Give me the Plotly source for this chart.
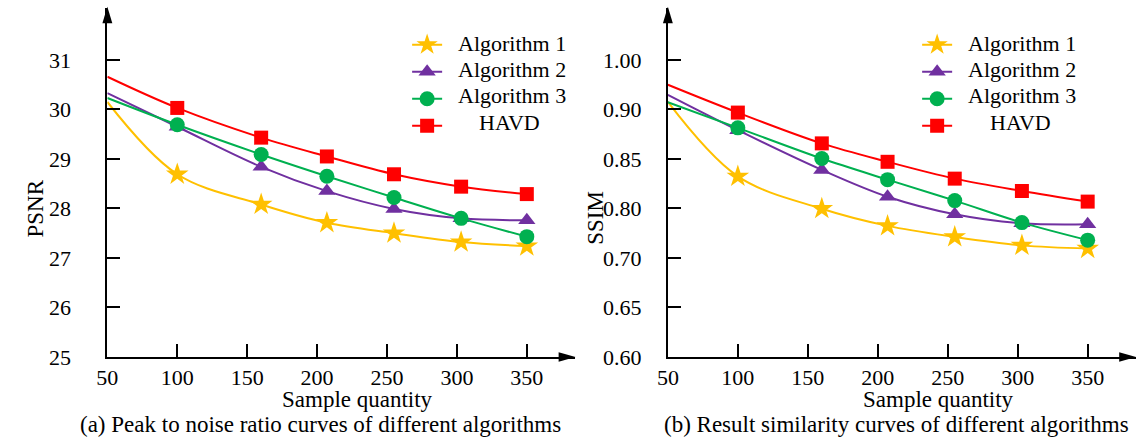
import plotly.graph_objects as go

W, H = 1136, 446

# ---------------- data ----------------
sample_x = [50, 100, 160, 207, 255, 303, 350]
x_ticks = [50, 100, 150, 200, 250, 300, 350]

names = ["Algorithm 1", "Algorithm 2", "Algorithm 3", "HAVD"]

psnr_alg1 = [30.15, 28.69, 28.08, 27.71, 27.50, 27.32, 27.24]
psnr_alg2 = [30.33, 29.65, 28.84, 28.35, 27.99, 27.80, 27.76]
psnr_alg3 = [30.23, 29.69, 29.09, 28.65, 28.22, 27.80, 27.43]
psnr_havd = [30.66, 30.03, 29.43, 29.05, 28.69, 28.44, 28.29]
psnr_ticks = [25, 26, 27, 28, 29, 30, 31]

ssim_alg1 = [0.9076, 0.8324, 0.7997, 0.7824, 0.7713, 0.7627, 0.7595]
ssim_alg2 = [0.9147, 0.8790, 0.8389, 0.8118, 0.7941, 0.7850, 0.7840]
ssim_alg3 = [0.9073, 0.8814, 0.8504, 0.8291, 0.8079, 0.7857, 0.7680]
ssim_havd = [0.9249, 0.8968, 0.8657, 0.8471, 0.8301, 0.8176, 0.8069]
ssim_tick_vals = [0.65, 0.70, 0.75, 0.80, 0.85, 0.90, 0.95]
ssim_tick_text = ["0.60", "0.65", "0.70", "0.80", "0.85", "0.90", "1.00"]

# ---------------- styles ----------------
colors = ["#FFC000", "#7030A0", "#00B050", "#FF0000"]
symbols = ["star", "triangle-up", "circle", "square"]
msizes = [17, 15, 15, 14]
FONT = "Liberation Serif"
FS_TICK = 22
FS_TEXT = 23
FS_LEG = 22
ROW = 27  # legend row spacing (px)


def px(x):
    return x / W


def py(y):
    return 1 - y / H


fig = go.Figure()

panels = [
    ("x", "y", "legend", [psnr_alg1, psnr_alg2, psnr_alg3, psnr_havd]),
    ("x2", "y2", "legend2", [ssim_alg1, ssim_alg2, ssim_alg3, ssim_havd]),
]

for xa, ya, lg, series in panels:
    for i, vals in enumerate(series):
        # smooth curve through all points
        fig.add_trace(go.Scatter(
            x=sample_x, y=vals, xaxis=xa, yaxis=ya, mode="lines",
            line=dict(color=colors[i], width=2, shape="spline", smoothing=1),
            showlegend=False, hoverinfo="skip", cliponaxis=False))
        # markers (no marker at the first sample)
        fig.add_trace(go.Scatter(
            x=sample_x[1:], y=vals[1:], xaxis=xa, yaxis=ya, mode="markers",
            name=names[i],
            marker=dict(color=colors[i], symbol=symbols[i], size=msizes[i],
                        line=dict(width=0)),
            showlegend=False, cliponaxis=False))
        # legend symbol (its label is drawn as an annotation for exact spacing)
        fig.add_trace(go.Scatter(
            x=[None], y=[None], xaxis=xa, yaxis=ya, mode="lines+markers",
            name="\u00a0", legend=lg,
            line=dict(color=colors[i], width=2),
            marker=dict(color=colors[i], symbol=symbols[i], size=msizes[i],
                        line=dict(width=0))))

axis_common = dict(
    showgrid=False, zeroline=False, showline=True, linecolor="black",
    linewidth=2, ticks="inside", ticklen=13, tickwidth=2, tickcolor="black",
    tickfont=dict(family=FONT, size=FS_TICK, color="black"),
)

y_bot = 367.7
y_top = 8
leg_fs = (ROW - 3) / 1.3
leg_common = dict(xanchor="left", yanchor="top", bgcolor="rgba(0,0,0,0)",
                  font=dict(family=FONT, size=leg_fs), tracegroupgap=0,
                  itemwidth=30, borderwidth=0)
fig.update_layout(
    width=W, height=H,
    margin=dict(l=0, r=0, t=0, b=0),
    paper_bgcolor="white", plot_bgcolor="white",
    font=dict(family=FONT, size=FS_TEXT, color="black"),
    xaxis=dict(domain=[px(97.3), px(570)], range=[50, 384.8],
               tickvals=x_ticks, anchor="y", **axis_common),
    yaxis=dict(domain=[py(y_bot), py(y_top)], range=[25, 25 + (y_bot - y_top) / 51],
               tickvals=psnr_ticks, anchor="x", ticklabelstandoff=30, **axis_common),
    xaxis2=dict(domain=[px(663.3), px(1135.5)], range=[50, 50 + (1135.5 - 663.3) / 1.413],
                tickvals=x_ticks, anchor="y2", **axis_common),
    yaxis2=dict(domain=[py(y_bot), py(y_top)],
                range=[0.65, 0.65 + (y_bot - y_top) / 51 * 0.05],
                tickvals=ssim_tick_vals, ticktext=ssim_tick_text,
                anchor="x2", ticklabelstandoff=20, **axis_common),
    legend=dict(x=px(400), y=py(27), **leg_common),
    legend2=dict(x=px(915), y=py(27), **leg_common),
    showlegend=True,
)


# axis arrowheads (layout decorations in pixel space)
def arrow_right(xtip, y):
    return dict(type="path", xref="paper", yref="paper",
                path=f"M {px(xtip)},{py(y)} L {px(xtip-17)},{py(y-5)} L {px(xtip-17)},{py(y+5)} Z",
                fillcolor="black", line=dict(width=0))


def arrow_up(x, ytip):
    return dict(type="path", xref="paper", yref="paper",
                path=f"M {px(x)},{py(ytip)} L {px(x-5)},{py(ytip+17)} L {px(x+5)},{py(ytip+17)} Z",
                fillcolor="black", line=dict(width=0))


fig.update_layout(shapes=[
    arrow_right(570, y_bot), arrow_up(97.3, y_top - 1),
    arrow_right(1136, y_bot), arrow_up(663.3, y_top - 1),
])

ann = []


def text(x, y, s, angle=0, size=FS_TEXT, xanchor="center"):
    ann.append(dict(x=px(x), y=py(y), xref="paper", yref="paper", text=s,
                    showarrow=False, textangle=angle, xanchor=xanchor, yanchor="middle",
                    font=dict(family=FONT, size=size, color="black")))


text(350, 411, "Sample quantity")
text(937, 411, "Sample quantity")
text(313, 437, "(a) Peak to noise ratio curves of different algorithms")
text(894, 437, "(b) Result similarity curves of different algorithms")
text(25, 215, "PSNR", -90)
text(590, 224, "SSIM", -90)

# legend labels
for x_text, x_center in [(449, 503), (964, 1019)]:
    for i, nm in enumerate(names):
        yy = 45 + i * 26.9
        if nm == "HAVD":
            text(x_center, yy, nm, size=FS_LEG)
        else:
            text(x_text, yy, nm, size=FS_LEG, xanchor="left")

fig.update_layout(annotations=ann)

fig.write_html("out.html", config={"displayModeBar": False, "staticPlot": True})

# remove the browser's default page margin so the figure sits at (0, 0)
with open("out.html", "r", encoding="utf-8") as f:
    html = f.read()
html = html.replace("<body>", '<body style="margin:0;padding:0;overflow:hidden">', 1)
with open("out.html", "w", encoding="utf-8") as f:
    f.write(html)
